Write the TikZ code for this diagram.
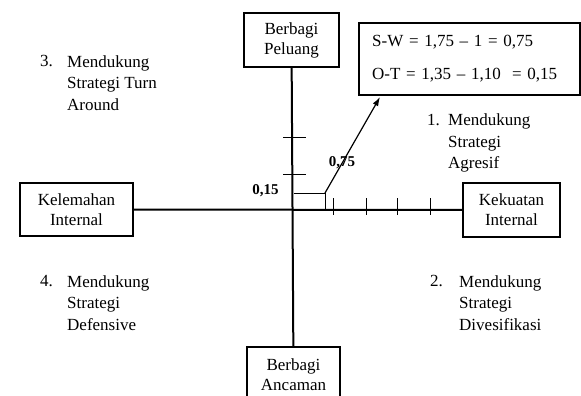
\documentclass[tikz,border=0pt]{standalone}
\usepackage{fontspec}
\setmainfont{Liberation Serif}
\usetikzlibrary{arrows.meta,positioning}
\tikzset{
  box/.style={draw,line width=2.4pt,align=center,inner sep=0pt,
    font=\fontsize{17}{20}\selectfont},
  axis/.style={line width=2pt},
  tick/.style={line width=0.9pt},
  num/.style={inner sep=0pt,anchor=north west,font=\fontsize{17}{22}\selectfont},
  quad/.style={inner sep=0pt,anchor=north west,align=left,font=\fontsize{17}{21.5}\selectfont},
  val/.style={inner sep=0pt,font=\fontsize{15}{18}\selectfont\bfseries}
}
\begin{document}
\begin{tikzpicture}[x=1pt,y=-1pt]
\useasboundingbox (0,0) rectangle (581,396);
% kotak sumbu
\node[box,minimum width=95pt,minimum height=54pt] (peluang) at (291.5,40) {Berbagi\\Peluang};
\node[box,minimum width=93pt,minimum height=56pt] (ancaman) at (293.5,375) {Berbagi\\Ancaman};
\node[box,minimum width=113pt,minimum height=53pt] (lemah) at (76.5,209.5) {Kelemahan\\Internal};
\node[box,minimum width=97pt,minimum height=54pt] (kuat) at (511.5,210) {Kekuatan\\Internal};
\node[box,anchor=west,text width=195pt,inner xsep=13pt,minimum height=72pt,align=left,
  font=\fontsize{17}{33}\selectfont] (hasil) at (358,59)
  {S-W = 1,75 -- 1 = 0,75\\O-T = 1,35 -- 1,10\ \ = 0,15};
% sumbu
\draw[axis] (peluang) -- (ancaman);
\draw[axis] (lemah) -- (kuat);
\coordinate (O) at (294,211);
% skala
\foreach \y in {137,174}
  \draw[tick] (283,\y) -- (306,\y);
\foreach \x in {333,366,397,430}
  \draw[tick] (\x,198) -- (\x,215);
% titik posisi
\coordinate (pos) at (325,193);
\coordinate (ujung) at (380,97);
\draw[tick] (O |- pos) -- (pos) -- (pos |- O);
\draw[line width=1.2pt,-{Latex[length=9pt,width=6pt]}] (pos) -- (ujung);
\node[val] (v15) at (265.5,191) {0,15};
\node[val] (v75) at (342,163) {0,75};
% kuadran
\node[num] (n1) at (427,114) {1.};
\node[quad] (k1) at (448,114) {Mendukung\\Strategi\\Agresif};
\node[num] (n2) at (430,275.5) {2.};
\node[quad] (k2) at (459,275.5) {Mendukung\\Strategi\\Divesifikasi};
\node[num] (n3) at (40,55.5) {3.};
\node[quad] (k3) at (67,55.5) {Mendukung\\Strategi Turn\\Around};
\node[num] (n4) at (40,275.5) {4.};
\node[quad] (k4) at (67,275.5) {Mendukung\\Strategi\\Defensive};
\end{tikzpicture}
\end{document}
